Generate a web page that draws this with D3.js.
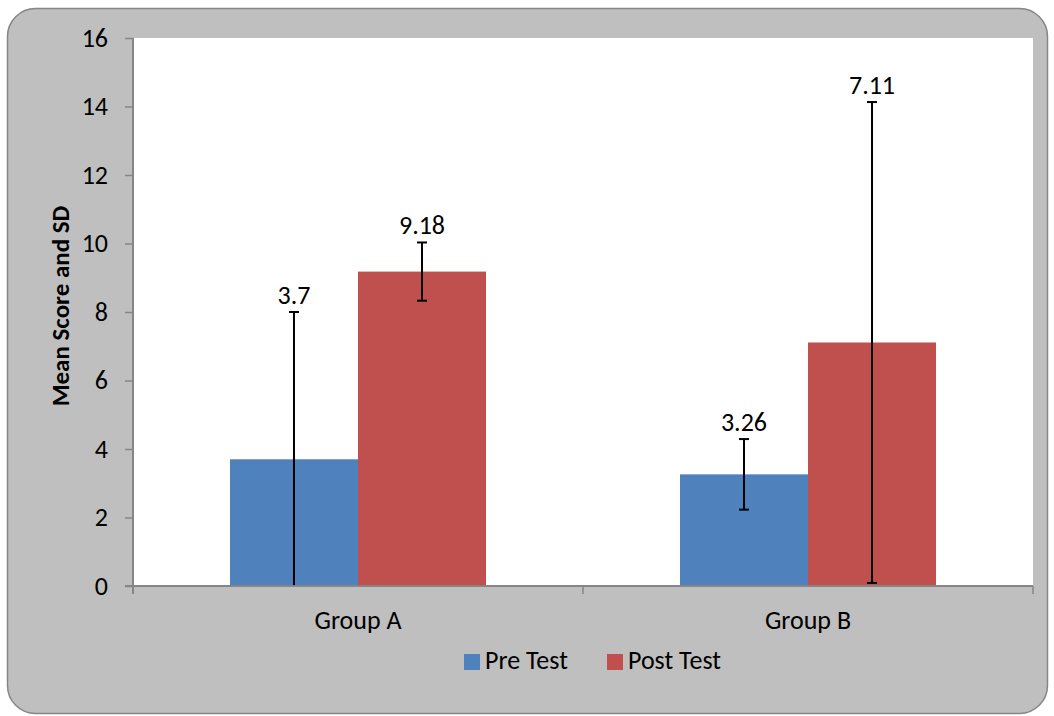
<!DOCTYPE html>
<html>
<head>
<meta charset="utf-8">
<script src="https://cdn.jsdelivr.net/npm/d3@7"></script>
<style>
  body { margin: 0; background: #fff; }
  text { font-family: Calibri, Carlito, Lato, sans-serif; }
</style>
</head>
<body>
<div id="chart"></div>
<script>
const width = 1054;
const height = 716;

// Data
const groups = ["Group A", "Group B"];
const seriesNames = ["Pre Test", "Post Test"];
const preTest = [3.7, 3.26];
const postTest = [9.18, 7.11];
const preSD = [4.3, 1.03];
const postSD = [0.85, 7.02];
const yTicks = [0, 2, 4, 6, 8, 10, 12, 14, 16];
const colours = ["#4F81BD", "#C0504D"];

const margin = { top: 38, right: 21, bottom: 130, left: 133 };
const plotW = width - margin.left - margin.right;
const plotH = height - margin.top - margin.bottom;
const fontSize = "26px";

const svg = d3.create("svg")
    .attr("width", width)
    .attr("height", height);

// Outer chart area
svg.append("rect")
    .attr("x", 7.5).attr("y", 8.5)
    .attr("width", 1040).attr("height", 705)
    .attr("rx", 28)
    .attr("fill", "#BFBFBF")
    .attr("stroke", "#868686")
    .attr("stroke-width", 1.5);

const g = svg.append("g").attr("transform", `translate(${margin.left},${margin.top})`);

g.append("rect")
    .attr("width", plotW).attr("height", plotH)
    .attr("fill", "#fff");

const x0 = d3.scaleBand().domain(groups).range([0, plotW]).paddingInner(0).paddingOuter(0);
const x1 = d3.scaleBand().domain(seriesNames).range([x0.bandwidth() * 0.2155, x0.bandwidth() * 0.7845]);
const y = d3.scaleLinear().domain([0, 16]).range([plotH, 0]);

const rows = [];
groups.forEach((grp, i) => {
    rows.push({ group: grp, series: "Pre Test", value: preTest[i], sd: preSD[i] });
    rows.push({ group: grp, series: "Post Test", value: postTest[i], sd: postSD[i] });
});
const colour = d3.scaleOrdinal().domain(seriesNames).range(colours);

// Bars
g.selectAll("rect.bar")
    .data(rows)
    .join("rect")
    .attr("class", "bar")
    .attr("x", d => x0(d.group) + x1(d.series))
    .attr("y", d => y(d.value))
    .attr("width", x1.bandwidth())
    .attr("height", d => y(0) - y(d.value))
    .attr("fill", d => colour(d.series));

// Error bars
const cap = 5;
const eb = g.append("g").attr("stroke", "#000").attr("stroke-width", 2);
rows.forEach(d => {
    const cx = x0(d.group) + x1(d.series) + x1.bandwidth() / 2;
    const hi = d.value + d.sd;
    const lo = d.value - d.sd;
    const yLo = y(Math.max(lo, 0));
    eb.append("line").attr("x1", cx).attr("x2", cx).attr("y1", y(hi)).attr("y2", yLo);
    eb.append("line").attr("x1", cx - cap).attr("x2", cx + cap).attr("y1", y(hi)).attr("y2", y(hi));
    if (lo >= 0) {
        eb.append("line").attr("x1", cx - cap).attr("x2", cx + cap).attr("y1", yLo).attr("y2", yLo);
    }
});

// Data labels
g.selectAll("text.label")
    .data(rows)
    .join("text")
    .attr("class", "label")
    .attr("x", d => x0(d.group) + x1(d.series) + x1.bandwidth() / 2)
    .attr("y", d => y(d.value + d.sd) - 8)
    .attr("text-anchor", "middle")
    .attr("font-size", fontSize)
    .attr("fill", "#000")
    .text(d => d.value);

// Y axis
const yAxis = g.append("g")
    .call(d3.axisLeft(y).tickValues(yTicks).tickSize(8).tickPadding(17));
yAxis.selectAll("text").attr("font-size", fontSize).attr("fill", "#000");
yAxis.selectAll("line").attr("stroke", "#868686").attr("stroke-width", 1.5);
yAxis.select(".domain").remove();
g.append("line")
    .attr("x1", 0).attr("x2", 0).attr("y1", 0).attr("y2", plotH + 8)
    .attr("stroke", "#868686").attr("stroke-width", 2);

// X axis
g.append("line")
    .attr("x1", -8).attr("x2", plotW).attr("y1", plotH).attr("y2", plotH)
    .attr("stroke", "#868686").attr("stroke-width", 2);
const xTicks = [0, ...groups.map(grp => x0(grp) + x0.bandwidth())];
g.selectAll("line.xtick")
    .data(xTicks)
    .join("line")
    .attr("class", "xtick")
    .attr("x1", d => d).attr("x2", d => d)
    .attr("y1", plotH).attr("y2", plotH + 8)
    .attr("stroke", "#868686").attr("stroke-width", 1.5);
g.selectAll("text.xlabel")
    .data(groups)
    .join("text")
    .attr("class", "xlabel")
    .attr("x", d => x0(d) + x0.bandwidth() / 2)
    .attr("y", plotH + 43)
    .attr("text-anchor", "middle")
    .attr("font-size", fontSize)
    .attr("fill", "#000")
    .text(d => d);

// Y title
svg.append("text")
    .attr("transform", `translate(69,${margin.top + plotH / 2 - 6}) rotate(-90)`)
    .attr("text-anchor", "middle")
    .attr("font-size", "25px")
    .attr("font-weight", "bold")
    .attr("fill", "#000")
    .text("Mean Score and SD");

// Legend
const legend = svg.append("g");
const legendX = [464, 607];
seriesNames.forEach((s, i) => {
    legend.append("rect")
        .attr("x", legendX[i]).attr("y", 654)
        .attr("width", 16).attr("height", 16)
        .attr("fill", colours[i]);
    legend.append("text")
        .attr("x", legendX[i] + 21).attr("y", 669)
        .attr("font-size", fontSize)
        .attr("fill", "#000")
        .text(s);
});

document.querySelector("#chart").append(svg.node());
</script>
</body>
</html>
